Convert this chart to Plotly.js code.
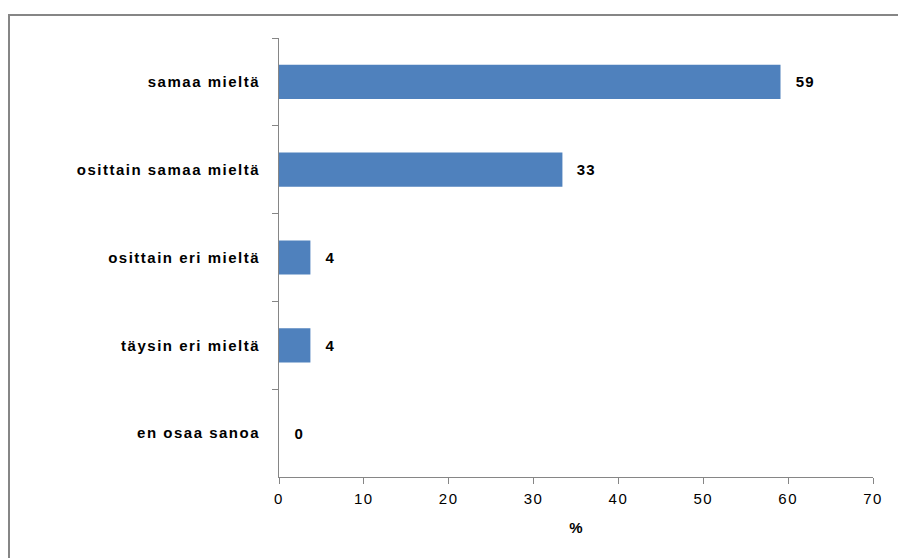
<!DOCTYPE html>
<html>
<head>
<meta charset="utf-8">
<script src="https://cdn.plot.ly/plotly-3.0.1.min.js"></script>
<style>
  html, body { margin:0; padding:0; width:898px; height:558px; overflow:hidden; background:#fff; }
  #frame { position:absolute; left:8px; top:14px; width:1000px; height:1000px; border:2px solid #868686; box-sizing:border-box; }
  #chart { position:absolute; left:0; top:0; width:898px; height:558px; }
  #chart .ytick text { letter-spacing: 1.5px; }
  #chart .xtick text { letter-spacing: 1.5px; }
  #chart .annotation-text { letter-spacing: 1.2px; }
</style>
</head>
<body>
<div id="frame"></div>
<div id="chart"></div>
<script>
const categories = ["samaa mieltä", "osittain samaa mieltä", "osittain eri mieltä", "täysin eri mieltä", "en osaa sanoa"];
const values = [59.1, 33.4, 3.7, 3.7, 0];
const valueLabels = ["59", "33", "4", "4", "0"];
const xTicks = [0, 10, 20, 30, 40, 50, 60, 70];
const xTitle = "%";

const trace = {
  type: "bar",
  orientation: "h",
  x: values,
  y: categories,
  marker: { color: "#4F81BD" },
  hoverinfo: "none"
};

const annotations = categories.map((c, i) => ({
  x: values[i], y: c, xref: "x", yref: "y",
  text: valueLabels[i], showarrow: false,
  xanchor: "left", yanchor: "middle", xshift: 14,
  font: { family: "Liberation Sans, Arial, sans-serif", size: 15, color: "#000", weight: "bold" }
}));

const layout = {
  width: 898, height: 558,
  margin: { l: 279, r: 25, t: 38, b: 81, pad: 0 },
  paper_bgcolor: "rgba(0,0,0,0)",
  plot_bgcolor: "rgba(0,0,0,0)",
  showlegend: false,
  bargap: 0.61,
  font: { family: "Liberation Sans, Arial, sans-serif", size: 15, color: "#000" },
  xaxis: {
    range: [0, 70], tickvals: xTicks, ticktext: xTicks.map(String),
    showgrid: false, zeroline: false,
    showline: true, linecolor: "#868686", linewidth: 1,
    ticks: "outside", ticklen: 6, tickcolor: "#868686",
    ticklabelstandoff: 2,
    tickfont: { size: 15, color: "#000" },
    title: { text: xTitle, font: { size: 15, color: "#000", weight: "bold" }, standoff: 16 }
  },
  yaxis: {
    autorange: "reversed", type: "category",
    showgrid: false, zeroline: false,
    showline: true, linecolor: "#868686", linewidth: 1,
    ticks: "outside", ticklen: 6, tickcolor: "#868686", tickson: "boundaries",
    ticklabelstandoff: 15,
    tickfont: { size: 15, color: "#000", weight: "bold" }
  },
  annotations: annotations
};

Plotly.newPlot("chart", [trace], layout, { displayModeBar: false, staticPlot: true });
</script>
</body>
</html>
